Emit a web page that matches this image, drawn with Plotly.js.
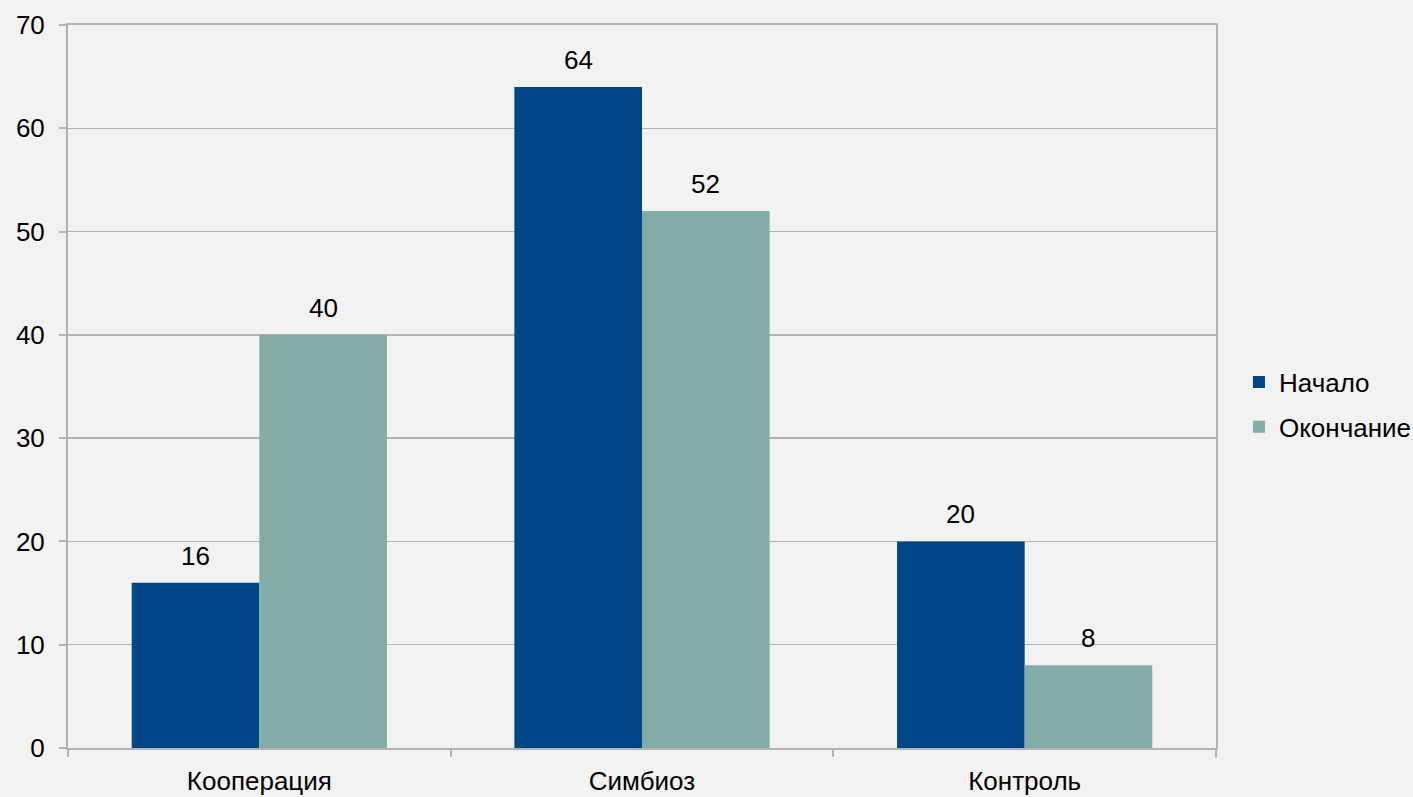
<!DOCTYPE html>
<html>
<head>
<meta charset="utf-8">
<script src="https://cdn.plot.ly/plotly-3.0.1.min.js"></script>
<style>
html,body{margin:0;padding:0;background:#f2f2f2;}
#chart{width:1413px;height:797px;}
</style>
</head>
<body>
<div id="chart"></div>
<script>
const categories = ["Кооперация", "Симбиоз", "Контроль"];
const seriesNames = ["Начало", "Окончание"];
const startValues = [16, 64, 20];
const endValues = [40, 52, 8];
const yTicks = [0, 10, 20, 30, 40, 50, 60, 70];

const font = {family: "Liberation Sans, Arial, sans-serif", size: 26, color: "#000000"};

const traces = [
  {type: "bar", name: seriesNames[0], x: categories, y: startValues, legendgroup: "a",
   marker: {color: "#004586"}, offsetgroup: "a"},
  {type: "bar", name: seriesNames[1], x: categories, y: endValues, legendgroup: "b",
   marker: {color: "#83aca6"}, offsetgroup: "b"}
];

// data labels placed via axis coordinates (category + value), shifted in pixels
const annotations = [];
categories.forEach((c, i) => {
  annotations.push({x: c, y: startValues[i], text: String(startValues[i]), xref: "x", yref: "y",
    showarrow: false, yanchor: "bottom", yshift: 10, xshift: -63.8, font: font});
  annotations.push({x: c, y: endValues[i], text: String(endValues[i]), xref: "x", yref: "y",
    showarrow: false, yanchor: "bottom", yshift: 10, xshift: 63.8, font: font});
});

const layout = {
  width: 1413, height: 797,
  paper_bgcolor: "#f2f2f2", plot_bgcolor: "#f2f2f2",
  font: font,
  margin: {l: 68, r: 197, t: 25, b: 49, autoexpand: false},
  barmode: "group", bargap: 0.333, bargroupgap: 0,
  showlegend: true,
  annotations: annotations,
  legend: {x: 1.02, y: 0.475, yanchor: "middle", xanchor: "left", font: font,
           bgcolor: "rgba(0,0,0,0)", traceorder: "grouped", tracegroupgap: 8, itemwidth: 30},
  xaxis: {type: "category", showline: true, linecolor: "#b3b3b3", linewidth: 2, mirror: true,
          ticks: "outside", tickson: "boundaries", ticklen: 7, tickcolor: "#b3b3b3", tickwidth: 2,
          tickfont: font, showgrid: false, ticklabelstandoff: 9, automargin: false},
  yaxis: {range: [0, 70], tickvals: yTicks, showline: true, linecolor: "#b3b3b3", linewidth: 2, mirror: true,
          ticks: "outside", ticklen: 7, tickcolor: "#b3b3b3", tickwidth: 2, automargin: false,
          gridcolor: "#b3b3b3", gridwidth: 1.5, tickfont: font, zeroline: false, ticklabelstandoff: 9}
};

Plotly.newPlot("chart", traces, layout, {displayModeBar: false, staticPlot: true});
</script>
</body>
</html>
